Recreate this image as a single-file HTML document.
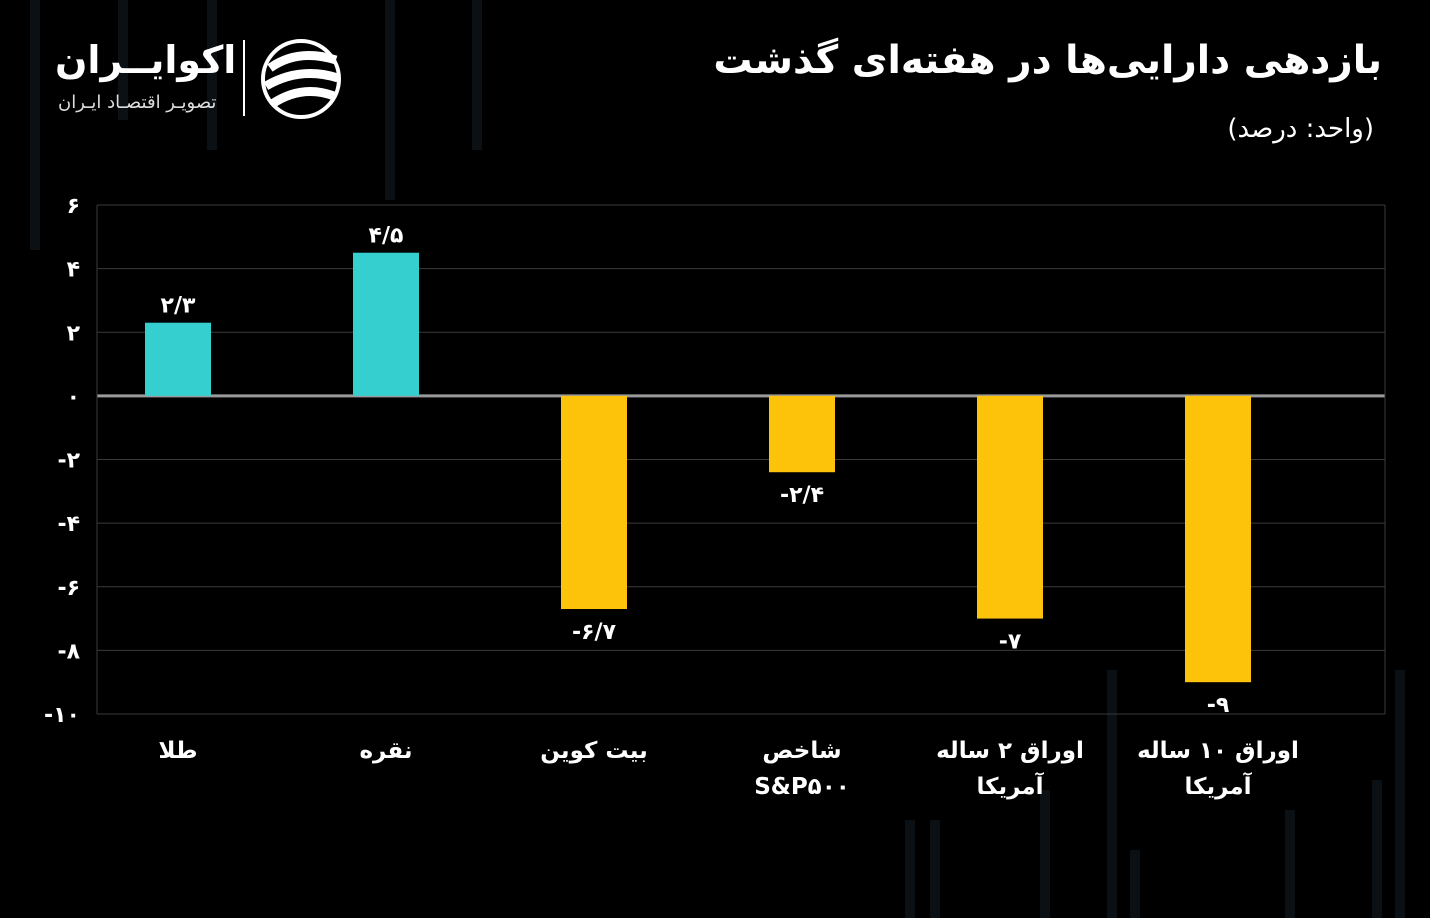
<!DOCTYPE html>
<html><head><meta charset="utf-8">
<style>
html,body{margin:0;padding:0;background:#000;}
body{width:1430px;height:918px;overflow:hidden;position:relative;font-family:"DejaVu Sans","Liberation Sans",sans-serif;color:#fff;}
.t{position:absolute;white-space:nowrap;}
</style></head>
<body>
<svg id="deco" width="1430" height="918" style="position:absolute;left:0;top:0">
  <g fill="#0a1013">
    <rect x="30" y="0" width="10" height="250"/><rect x="118" y="0" width="10" height="120"/>
    <rect x="207" y="0" width="10" height="150"/><rect x="385" y="0" width="10" height="200"/>
    <rect x="472" y="0" width="10" height="150"/>
    <rect x="905" y="820" width="10" height="98"/><rect x="930" y="820" width="10" height="98"/>
    <rect x="1040" y="790" width="10" height="128"/><rect x="1107" y="670" width="10" height="248"/>
    <rect x="1130" y="850" width="10" height="68"/><rect x="1285" y="810" width="10" height="108"/>
    <rect x="1395" y="670" width="10" height="248"/><rect x="1372" y="780" width="10" height="138"/>
  </g>
</svg>

<div class="t" style="left:55px;top:38px;font-size:38px;font-weight:bold;">اکوایــران</div>
<div class="t" style="left:58px;top:92px;font-size:18px;color:#ddd;letter-spacing:0.5px;">تصویـر اقتصـاد ایـران</div>
<div style="position:absolute;left:243px;top:40px;width:2px;height:76px;background:#fff"></div>
<svg style="position:absolute;left:258px;top:38px" width="86" height="82">
  <circle cx="43" cy="41" r="38" fill="none" stroke="#fff" stroke-width="4"/>
  <path d="M12 30 Q40 10 78 22" stroke="#fff" stroke-width="9" fill="none"/>
  <path d="M8 48 Q42 28 80 40" stroke="#fff" stroke-width="9" fill="none"/>
  <path d="M14 66 Q44 46 76 58" stroke="#fff" stroke-width="9" fill="none"/>
</svg>

<div class="t" style="right:48px;top:38px;font-size:39px;font-weight:bold;direction:rtl;">بازدهی دارایی‌ها در هفته‌ای گذشت</div>
<div class="t" style="right:56px;top:114px;font-size:26px;direction:rtl;">(واحد: درصد)</div>

<svg id="chart" width="1430" height="918" style="position:absolute;left:0;top:0"></svg>

<script>
const categories = ["طلا","نقره","بیت کوین","شاخص|S&P۵۰۰","اوراق ۲ ساله|آمریکا","اوراق ۱۰ ساله|آمریکا"];
const values = [2.3, 4.5, -6.7, -2.4, -7, -9];
const valueLabels = ["۲/۳","۴/۵","-۶/۷","-۲/۴","-۷","-۹"];
const ticks = [6,4,2,0,-2,-4,-6,-8,-10];
const tickLabels = ["۶","۴","۲","۰","-۲","-۴","-۶","-۸","-۱۰"];

const NS="http://www.w3.org/2000/svg";
const svg=document.getElementById('chart');
const X0=97, X1=1385, yTop=205, yBot=714, vMax=6, vMin=-10;
const y=v=>yTop+(vMax-v)*(yBot-yTop)/(vMax-vMin);
const cx=i=>178+i*208;
const bw=66;
function mk(tag,attrs){const e=document.createElementNS(NS,tag);for(const k in attrs)e.setAttribute(k,attrs[k]);svg.appendChild(e);return e;}

ticks.forEach((t,i)=>{
  const l=mk('line',{x1:X0,x2:X1,y1:y(t),y2:y(t),stroke:t===0?'#9a9a9a':'#3a3a3a',"stroke-width":t===0?3:1});
  
  
  const tx=mk('text',{x:80,y:y(t)+8,"text-anchor":"end",fill:"#fff","font-size":22,"font-weight":"bold","font-family":"DejaVu Sans, sans-serif"});
  tx.textContent=tickLabels[i];
  
  
});
const ax=mk('line',{x1:X0,x2:X0,y1:yTop,y2:yBot,stroke:'#3a3a3a'});


const ax2=mk('line',{x1:X1,x2:X1,y1:yTop,y2:yBot,stroke:'#3a3a3a'});



values.forEach((v,i)=>{
  const top=Math.min(y(v),y(0)), h=Math.abs(y(v)-y(0));
  const r=mk('rect',{x:cx(i)-bw/2,y:top,width:bw,height:h,fill:v>=0?'#36cfd0':'#fdc20a'});
  
  
  const lt=mk('text',{x:cx(i),y:v>=0?y(v)-10:y(v)+30,"text-anchor":"middle",fill:"#fff","font-size":22,"font-weight":"bold","font-family":"DejaVu Sans, sans-serif"});
  lt.textContent=valueLabels[i];
  
  
  categories[i].split('|').forEach((line,j)=>{
    const c=mk('text',{x:cx(i),y:758+j*36,"text-anchor":"middle",fill:"#fff","font-size":23,"font-weight":"bold","font-family":"DejaVu Sans, sans-serif",direction:"rtl"});
    c.textContent=line;
    
    
  });
});
</script>
</body></html>
